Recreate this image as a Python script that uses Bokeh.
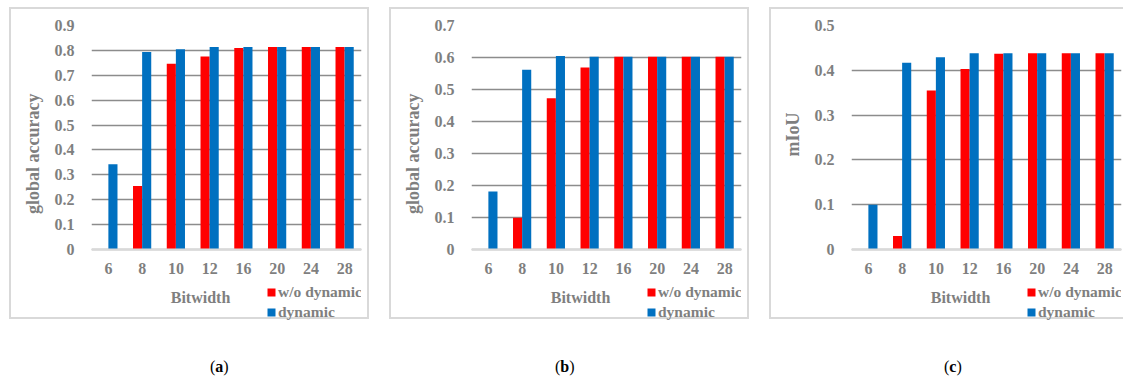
from bokeh.plotting import figure
from bokeh.models import (FactorRange, Range1d, FixedTicker, NumeralTickFormatter,
                          Label, Legend, LegendItem, ColumnDataSource, Div, Title)
from bokeh.transform import dodge
from bokeh.layouts import row, column
from bokeh.embed import file_html
from bokeh.resources import INLINE

# ---- data ----
bitwidths = ["6", "8", "10", "12", "16", "20", "24", "28"]
series_names = ["w/o dynamic", "dynamic"]

a_wo = [0.0, 0.255, 0.746, 0.775, 0.810, 0.814, 0.814, 0.814]
a_dyn = [0.343, 0.794, 0.805, 0.814, 0.814, 0.814, 0.814, 0.814]

b_wo = [0.0, 0.099, 0.473, 0.569, 0.602, 0.602, 0.602, 0.602]
b_dyn = [0.181, 0.562, 0.605, 0.602, 0.602, 0.602, 0.602, 0.602]

c_wo = [0.0, 0.030, 0.355, 0.403, 0.437, 0.438, 0.438, 0.438]
c_dyn = [0.100, 0.417, 0.429, 0.438, 0.438, 0.438, 0.438, 0.438]

y_titles = ["global accuracy", "global accuracy", "mIoU"]
x_title = "Bitwidth"
captions = ["a", "b", "c"]

RED = "#ff0000"
BLUE = "#0070c0"
GRAY = "#7f7f7f"
FONT = "Liberation Serif"

TOP = 16           # pixels above the top gridline inside the box
FRAME_H = 224      # pixel height of the 0..ymax part
BELOW = 72         # pixels below the zero line inside the box


def panel(wo, dyn, ymax, ytitle, ytitle_off, mbl, mbr, width, styles):
    src = ColumnDataSource(dict(bw=bitwidths, wo=wo, dyn=dyn))
    ystart = -ymax * BELOW / FRAME_H
    p = figure(x_range=FactorRange(*bitwidths), y_range=Range1d(ystart, ymax),
               width=width, height=TOP + FRAME_H + BELOW,
               min_border_left=mbl, min_border_right=mbr,
               min_border_top=TOP, min_border_bottom=0,
               output_backend="svg", toolbar_location=None, styles=styles)
    p.outline_line_color = None
    p.background_fill_color = "white"
    p.border_fill_color = "white"

    r1 = p.vbar(x=dodge("bw", -0.135, range=p.x_range), top="wo", width=0.27,
                source=src, fill_color=RED, line_color=None)
    r2 = p.vbar(x=dodge("bw", 0.135, range=p.x_range), top="dyn", width=0.27,
                source=src, fill_color=BLUE, line_color=None)

    ticks = [i / 10 for i in range(0, int(round(ymax * 10)) + 1)]

    p.xgrid.visible = False
    p.ygrid.grid_line_color = "#8c8c8c"
    p.ygrid.grid_line_width = 1.5
    p.ygrid.ticker = FixedTicker(ticks=ticks)

    ya = p.yaxis[0]
    ya.ticker = FixedTicker(ticks=ticks)
    ya.formatter = NumeralTickFormatter(format="0.[0]")
    ya.axis_line_color = None
    ya.major_tick_line_color = None
    ya.minor_tick_line_color = None
    ya.major_tick_out = 0
    ya.major_label_standoff = 17
    ya.major_label_text_font = FONT
    ya.major_label_text_font_style = "bold"
    ya.major_label_text_font_size = "16px"
    ya.major_label_text_color = GRAY

    xa = p.xaxis[0]
    xa.fixed_location = 0
    xa.axis_line_color = "#d9d9d9"
    xa.axis_line_width = 2
    xa.major_tick_line_color = None
    xa.minor_tick_line_color = None
    xa.major_tick_out = 0
    xa.major_label_standoff = 13
    xa.major_label_text_font = FONT
    xa.major_label_text_font_style = "bold"
    xa.major_label_text_font_size = "16px"
    xa.major_label_text_color = GRAY

    p.add_layout(Label(x=0, y=0, x_offset=109, y_offset=-48, text=x_title,
                       text_font=FONT, text_font_style="bold",
                       text_font_size="16px", text_color=GRAY,
                       text_align="center", text_baseline="middle"))
    p.add_layout(Title(text=ytitle, align="right", offset=ytitle_off, standoff=18,
                       text_font=FONT, text_font_style="bold",
                       text_font_size="18px", text_color=GRAY), "left")

    legend = Legend(items=[LegendItem(label=series_names[0], renderers=[r1]),
                           LegendItem(label=series_names[1], renderers=[r2])],
                    location=(175, 0), orientation="vertical",
                    glyph_width=10, glyph_height=10, label_standoff=2,
                    label_height=16, spacing=2, padding=0, margin=0,
                    border_line_color=None, background_fill_alpha=0,
                    label_text_font=FONT, label_text_font_style="bold",
                    label_text_font_size="15.5px", label_text_color=GRAY)
    p.add_layout(legend)
    return p


box = {"border": "2px solid #d9d9d9"}
box_c = {"border-left": "2px solid #d9d9d9", "border-top": "2px solid #d9d9d9",
         "border-bottom": "2px solid #d9d9d9"}

pa = panel(a_wo, a_dyn, 0.9, y_titles[0], 68, 73, 10, 360, box)
pb = panel(b_wo, b_dyn, 0.7, y_titles[1], 68, 73, 10, 360, box)
pc = panel(c_wo, c_dyn, 0.5, y_titles[2], 87, 72, 4, 354, box_c)


def caption(letter, width, pad):
    html = ('<div style="text-align:left;padding-left:%dpx;'
            'font-family:\'Liberation Serif\';font-size:16px;line-height:16px;color:#000;">'
            '(<b>%s</b>)</div>' % (pad, letter))
    return Div(text=html, width=width, height=16, margin=(40, 0, 0, 0))


layout = row(column(pa, caption(captions[0], 360, 201)),
             column(pb, caption(captions[1], 360, 166)),
             column(pc, caption(captions[2], 340, 175)),
             spacing=20, margin=(7, 0, 0, 9))

open("out.html", "w").write(file_html(layout, INLINE))
